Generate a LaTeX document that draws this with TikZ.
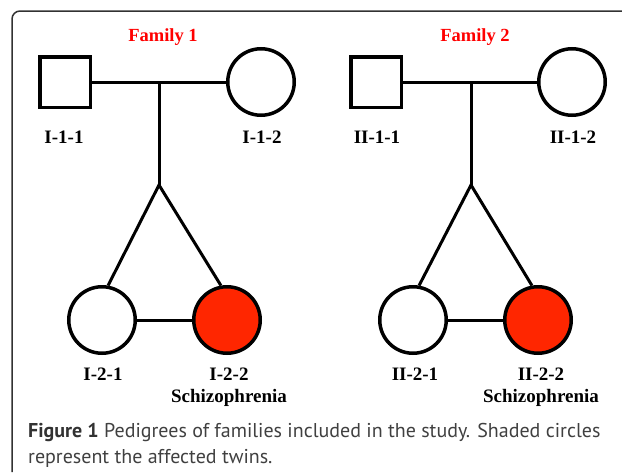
\documentclass[tikz,border=0pt]{standalone}
\usepackage{fontspec}
\setmainfont{Liberation Serif}
\newfontfamily\capfont{PT Sans}
\usetikzlibrary{positioning}
\definecolor{affected}{RGB}{255,38,0}
\definecolor{titlered}{RGB}{255,0,0}
\definecolor{captext}{RGB}{64,64,64}
\definecolor{framegray}{RGB}{50,50,50}

\tikzset{
  male/.style={draw, line width=3.5pt, minimum size=50.5pt, inner sep=0pt},
  female/.style={draw, circle, line width=3.5pt, minimum size=66.5pt, inner sep=0pt},
  ill/.style={female, fill=affected},
  tag/.style={font=\fontsize{19}{22}\selectfont\bfseries, anchor=base},
  famtitle/.style={font=\fontsize{18.5}{22}\selectfont\bfseries, text=titlered, anchor=base},
  link/.style={line width=3pt},
  captxt/.style={font=\capfont\fontsize{20}{24}\selectfont, text=captext, anchor=base west, inner sep=0pt}
}

\begin{document}
\begin{tikzpicture}[x=1pt,y=-1pt]
		\useasboundingbox (0,0) rectangle (622,474);
		\draw[line width=1.5pt, framegray, rounded corners=8pt] (12,472) -- (12,11) -- (640,11);
		% family 1
		\node[famtitle] (t1) at (163,41) {Family 1};
		\node[male] (f1) at (65,82) {};
		\node[female] (m1) at (261,82) {};
		\coordinate (j1) at (159,82);
		\coordinate (s1) at (159,185);
		\node[female] (a1) at (102,320) {};
		\node[ill] (b1) at (227,320) {};
		\draw[link] (f1) -- (m1);
		\draw[link] (j1) -- (s1);
		\draw[link] (a1.80) -- (s1) -- (b1.100);
		\draw[link] (a1) -- (b1);
		\node[tag] (lf1) at (64,143) {I-1-1};
		\node[tag] (lm1) at (262,143) {I-1-2};
		\node[tag] (la1) at (103,380) {I-2-1};
		\node[tag] (lb1) at (229,380) {I-2-2};
		\node[tag] (dx1) at (229,402) {Schizophrenia};
		% family 2
		\node[famtitle] (t2) at (475,41) {Family 2};
		\node[male] (f2) at (376,82) {};
		\node[female] (m2) at (572,82) {};
		\coordinate (j2) at (471,82);
		\coordinate (s2) at (471,185);
		\node[female] (a2) at (413,320) {};
		\node[ill] (b2) at (538,320) {};
		\draw[link] (f2) -- (m2);
		\draw[link] (j2) -- (s2);
		\draw[link] (a2.80) -- (s2) -- (b2.100);
		\draw[link] (a2) -- (b2);
		\node[tag] (lf2) at (377,143) {II-1-1};
		\node[tag] (lm2) at (573,143) {II-1-2};
		\node[tag] (la2) at (415,380) {II-2-1};
		\node[tag] (lb2) at (541,380) {II-2-2};
		\node[tag] (dx2) at (541,402) {Schizophrenia};
		% caption
		\node[captxt] (cap1) at (28,437) {\textbf{\color{framegray}Figure 1} Pedigrees of families included in the study. Shaded circles};
		\node[captxt] (cap2) at (28,463) {represent the affected twins.};
\end{tikzpicture}
\end{document}
